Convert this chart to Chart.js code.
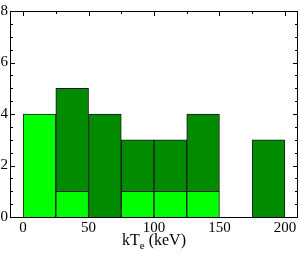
<!DOCTYPE html>
<html>
<head>
<meta charset="utf-8">
<script src="https://cdn.jsdelivr.net/npm/chart.js@4"></script>
<style>
  body { margin: 0; background: #fff; }
  #wrap { width: 300px; height: 253px; }
</style>
</head>
<body>
<div id="wrap"><canvas id="hist-chart" width="300" height="253"></canvas></div>
<script>
// bin centres (keV), bins are 25 keV wide
var binCentres = [12.5, 37.5, 62.5, 87.5, 112.5, 137.5, 162.5, 187.5];
var lightCounts = [4, 1, null, 1, 1, 1, null, null];
var darkCounts = [null, 4, 4, 2, 2, 3, null, 3];
var xTickLabels = [0, 50, 100, 150, 200];
var yTickLabels = [0, 2, 4, 6, 8];

function toPoints(vals){
	return binCentres.map(function(c, i) {
		return { x: c, y: vals[i] };
	});
}

// frame + inward ticks like the original plot
var framePlugin = {
	id: 'frame',
	beforeDatasetsDraw: function(chart){
		var ctx = chart.ctx, a = chart.chartArea;
		var xs = chart.scales.x, ys = chart.scales.y;
		ctx.save();
		ctx.strokeStyle = '#000';
		ctx.lineWidth = 1;
		ctx.beginPath();
		for (var v = 0; v <= 8; v += 0.5) {
			var y = Math.round(ys.getPixelForValue(v)) + 0.5;
			var len = (v % 2 === 0) ? 5 : 3;
			ctx.moveTo(a.left, y); ctx.lineTo(a.left + len, y);
			ctx.moveTo(a.right, y); ctx.lineTo(a.right - len, y);
		}
		for (var t = 0; t <= 200; t += 25) {
			var x = Math.round(xs.getPixelForValue(t)) + 0.5;
			var l2 = (t % 50 === 0) ? 5 : 3;
			ctx.moveTo(x, a.top); ctx.lineTo(x, a.top + l2);
		}
		ctx.stroke();
		ctx.restore();
	},
	afterDatasetsDraw: function(chart){
		var ctx = chart.ctx, a = chart.chartArea;
		ctx.save();
		ctx.strokeStyle = '#000';
		ctx.lineWidth = 1;
		ctx.strokeRect(Math.round(a.left) + 0.5, Math.round(a.top) + 0.5,
			Math.round(a.right - a.left) - 1, Math.round(a.bottom - a.top));
		// axis title with subscript
		var cx = 154;
		var by = 245;
		ctx.fillStyle = '#000';
		ctx.textBaseline = 'alphabetic';
		var p1 = 'kT', p3 = ' (keV)';
		ctx.font = '11px "Liberation Serif"';
		var wSub = ctx.measureText('e').width;
		ctx.font = '16px "Liberation Serif"';
		var w1 = ctx.measureText(p1).width, w3 = ctx.measureText(p3).width;
		var x0 = cx - (w1 + wSub + w3) / 2;
		ctx.textAlign = 'left';
		ctx.fillText(p1, x0, by);
		ctx.font = '11px "Liberation Serif"';
		ctx.fillText('e', x0 + w1, by + 4);
		ctx.font = '16px "Liberation Serif"';
		ctx.fillText(p3, x0 + w1 + wSub, by);
		ctx.restore();
	}
};

new Chart(document.getElementById("hist-chart"), {
	type: 'bar',
	data: {
		datasets: [
			{
				label: 'light',
				data: toPoints(lightCounts),
				backgroundColor: '#00ff00',
				borderColor: '#1a1a1a',
				borderWidth: 1,
				barPercentage: 1,
				categoryPercentage: 1
			},
			{
				label: 'dark',
				data: toPoints(darkCounts),
				backgroundColor: '#008b00',
				borderColor: '#1a1a1a',
				borderWidth: 1,
				barPercentage: 1,
				categoryPercentage: 1
			}
		]
	},
	options: {
		responsive: false,
		animation: false,
		layout: { padding: { top: 5, right: 2, left: 0, bottom: 0 } },
		plugins: {
			legend: { display: false },
			tooltip: { enabled: false }
		},
		scales: {
			x: {
				type: 'linear',
				stacked: true,
				offset: false,
				min: -10,
				max: 210,
				grid: { display: false, drawTicks: false },
				border: { display: false },
				afterBuildTicks: function(scale){
					scale.ticks = xTickLabels.map(function(v){ return { value: v }; });
				},
				afterFit: function(scale){ scale.height = 36; },
				ticks: {
					padding: 2,
					maxRotation: 0,
					color: '#000',
					font: { family: 'Liberation Serif', size: 15 }
				}
			},
			y: {
				stacked: true,
				min: 0,
				max: 8,
				grid: { display: false, drawTicks: false },
				border: { display: false },
				afterBuildTicks: function(scale){
					scale.ticks = yTickLabels.map(function(v){ return { value: v }; });
				},
				afterFit: function(scale){ scale.width = 10; },
				ticks: {
					padding: 2,
					color: '#000',
					font: { family: 'Liberation Serif', size: 15 }
				}
			}
		}
	},
	plugins: [framePlugin]
});
</script>
</body>
</html>
